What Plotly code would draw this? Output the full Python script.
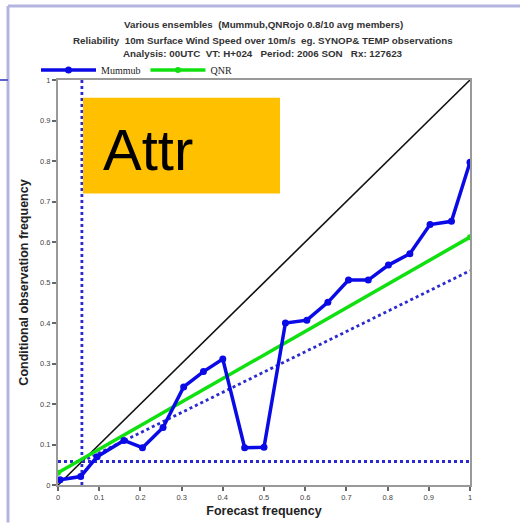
import plotly.graph_objects as go

# ---- data ----
mummub_x = [0.005, 0.055, 0.095, 0.16, 0.205, 0.255, 0.305, 0.353, 0.40, 0.453, 0.50,
            0.552, 0.604, 0.655, 0.705, 0.753, 0.802, 0.854, 0.903, 0.955, 1.0]
mummub_y = [0.013, 0.021, 0.07, 0.11, 0.092, 0.142, 0.242, 0.28, 0.311, 0.092, 0.093,
            0.40, 0.407, 0.451, 0.506, 0.506, 0.543, 0.571, 0.643, 0.651, 0.797]
qnr_x = [0.0, 1.0]
qnr_y = [0.03, 0.612]
diag_x = [0.0, 1.0]
diag_y = [0.0, 1.0]
clim = 0.058
noskill_x = [clim, 1.0]
noskill_y = [clim, (1.0 + clim) / 2]
tick_vals = [0, 0.1, 0.2, 0.3, 0.4, 0.5, 0.6, 0.7, 0.8, 0.9, 1]
tick_text = ["0", "0.1", "0.2", "0.3", "0.4", "0.5", "0.6", "0.7", "0.8", "0.9", "1"]
title_lines = [
    "Various ensembles  (Mummub,QNRojo 0.8/10 avg members)",
    "Reliability  10m Surface Wind Speed over 10m/s  eg. SYNOP& TEMP observations",
    "Analysis: 00UTC  VT: H+024   Period: 2006 SON   Rx: 127623",
]

# plot-area geometry in pixels (for overlay placement)
W, H = 520, 528
L, R, T, B = 58, 50, 80, 38
pw, ph = W - L - R, H - T - B


def px(x):
    return (x - L) / pw


def py(y):
    return (H - B - y) / ph


fig = go.Figure()

# diagonal
fig.add_trace(go.Scatter(x=diag_x, y=diag_y, mode="lines",
                         line=dict(color="#111111", width=1.6), showlegend=False))
# climatology lines
dotline = dict(color="#2a2ad0", width=2.8, dash="dot")
fig.add_trace(go.Scatter(x=[0, 1], y=[clim, clim], mode="lines",
                         line=dotline, showlegend=False))
fig.add_trace(go.Scatter(x=[clim, clim], y=[0, 1], mode="lines",
                         line=dotline, showlegend=False))
fig.add_trace(go.Scatter(x=noskill_x, y=noskill_y, mode="lines",
                         line=dotline, showlegend=False))
# QNR
fig.add_trace(go.Scatter(x=qnr_x, y=qnr_y, mode="lines+markers", name="QNR",
                         line=dict(color="#10e010", width=3.5),
                         marker=dict(color="#10e010", size=6)))
# Mummub
fig.add_trace(go.Scatter(x=mummub_x, y=mummub_y, mode="lines+markers", name="Mummub",
                         line=dict(color="#0a0ae6", width=3.5),
                         marker=dict(color="#0a0ae6", size=7)))

axis_common = dict(range=[0, 1], tickvals=tick_vals, ticktext=tick_text,
                   showgrid=False, zeroline=False, showline=True, mirror=True,
                   linecolor="#999999", linewidth=2, ticks="outside", ticklen=4,
                   tickcolor="#666666", tickwidth=1.5,
                   tickfont=dict(family="Liberation Sans", size=7.5, color="#444444"))

fig.update_xaxes(**axis_common,
                 title=dict(text="<b>Forecast frequency</b>", standoff=5,
                            font=dict(family="Liberation Sans", size=12.5, color="#222222")))
fig.update_yaxes(**axis_common,
                 title=dict(text="<b>Conditional observation frequency</b>", standoff=9,
                            font=dict(family="Liberation Sans", size=12.5, color="#222222")))

annotations = []
for i, (t, yy) in enumerate(zip(title_lines, [24, 40, 53])):
    annotations.append(dict(text="<b>" + t + "</b>", x=px(263), y=py(yy), xref="paper", yref="paper",
                            showarrow=False, xanchor="center", yanchor="middle",
                            font=dict(family="Liberation Sans", size=9.8, color="#333333")))
# Attr overlay
annotations.append(dict(text="Attr", x=px(101), y=py(150), xref="paper", yref="paper",
                        showarrow=False, xanchor="left", yanchor="middle",
                        font=dict(family="Liberation Sans", size=58, color="#000000")))

shapes = [
    dict(type="rect", xref="paper", yref="paper", x0=px(83), x1=px(280), y0=py(195), y1=py(98),
         fillcolor="#FFC000", line=dict(width=0), layer="above"),
    # slide frame
    dict(type="line", xref="paper", yref="paper", x0=px(8), x1=px(8), y0=py(5), y1=py(528),
         line=dict(color="#b4b4e0", width=3)),
    dict(type="line", xref="paper", yref="paper", x0=px(8), x1=px(520), y0=py(5), y1=py(5),
         line=dict(color="#b4b4e0", width=3)),
    dict(type="line", xref="paper", yref="paper", x0=px(0), x1=px(8), y0=py(80), y1=py(80),
         line=dict(color="#6060c8", width=2)),
]

fig.update_layout(
    width=W, height=H,
    margin=dict(l=L, r=R, t=T, b=B),
    paper_bgcolor="white", plot_bgcolor="white",
    annotations=annotations, shapes=shapes,
    legend=dict(orientation="h", x=px(36), y=py(70), xanchor="left", yanchor="middle",
                traceorder="reversed", itemwidth=55, bgcolor="rgba(0,0,0,0)",
                font=dict(family="Liberation Serif", size=10, color="#222222")),
)

fig.write_html("out.html")
